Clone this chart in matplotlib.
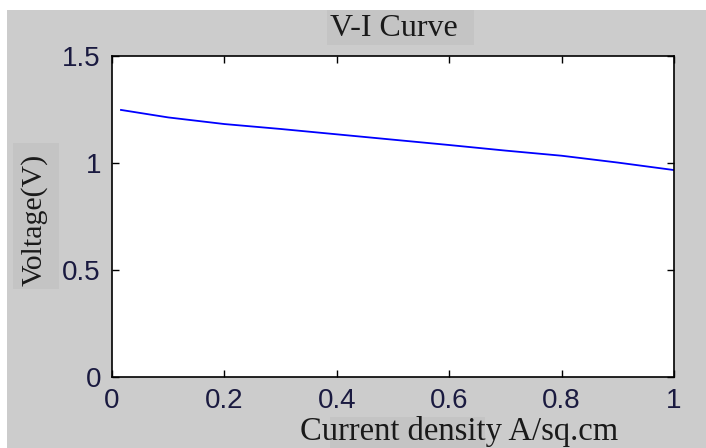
import numpy as np
import matplotlib.pyplot as plt
from matplotlib.patches import Rectangle

# current density (A/sq.cm) and voltage (V)
current = [0.016, 0.1, 0.2, 0.3, 0.4, 0.5, 0.6, 0.7, 0.8, 0.9, 1.0]
voltage = [1.248, 1.213, 1.182, 1.159, 1.134, 1.109, 1.084, 1.058, 1.034, 1.002, 0.967]

xticks = [0, 0.2, 0.4, 0.6, 0.8, 1]
xticklabels = ['0', '0.2', '0.4', '0.6', '0.8', '1']
yticks = [0, 0.5, 1, 1.5]
yticklabels = ['0', '0.5', '1', '1.5']

W, H = 706, 448
fig = plt.figure(figsize=(W / 100, H / 100), dpi=100, facecolor='white')

def box(x0, y0, x1, y1, color, z):
    # rectangle given in pixel coords (origin top left)
    fig.patches.append(Rectangle((x0 / W, 1 - y1 / H), (x1 - x0) / W, (y1 - y0) / H,
                                 transform=fig.transFigure, facecolor=color,
                                 edgecolor='none', zorder=z))

# grey window background
box(7, 10, W, H, '#cccccc', -10)
# slightly darker boxes behind the labels
box(327, 10, 474, 45, '#c4c4c4', -5)
box(13, 143, 59, 289, '#c4c4c4', -5)
box(330, 417, 485, H, '#c4c4c4', -5)

ax = fig.add_axes([112 / W, 71 / H, 562 / W, 321 / H])
ax.plot(current, voltage, color='#0000ff', linewidth=1.3)

ax.set_xlim(0, 1)
ax.set_ylim(0, 1.5)
ax.set_xticks(xticks)
ax.set_xticklabels(xticklabels)
ax.set_yticks(yticks)
ax.set_yticklabels(yticklabels)
ax.tick_params(direction='in', length=5, width=1, top=True, right=True,
               labelsize=20, colors='black')
ax.tick_params(axis='x', pad=8)
ax.tick_params(axis='y', pad=8)
for lab in ax.get_xticklabels() + ax.get_yticklabels():
    lab.set_fontfamily('Liberation Sans')
    lab.set_color('#1a1a40')
for s in ax.spines.values():
    s.set_linewidth(1.2)

serif = 'Liberation Serif'
fig.text(394 / W, 1 - 36 / H, 'V-I Curve', ha='center', va='baseline',
         fontsize=23, family=serif, color='#1a1a1a')
fig.text(34 / W, 1 - 220 / H, 'Voltage(V)', ha='center', va='center',
         rotation=90, fontsize=21.5, family=serif, color='#1a1a1a')
fig.text(459 / W, 1 - 440 / H, 'Current density A/sq.cm', ha='center', va='baseline',
         fontsize=23.5, family=serif, color='#1a1a1a')

plt.savefig('out.png', dpi=100, facecolor='white')
